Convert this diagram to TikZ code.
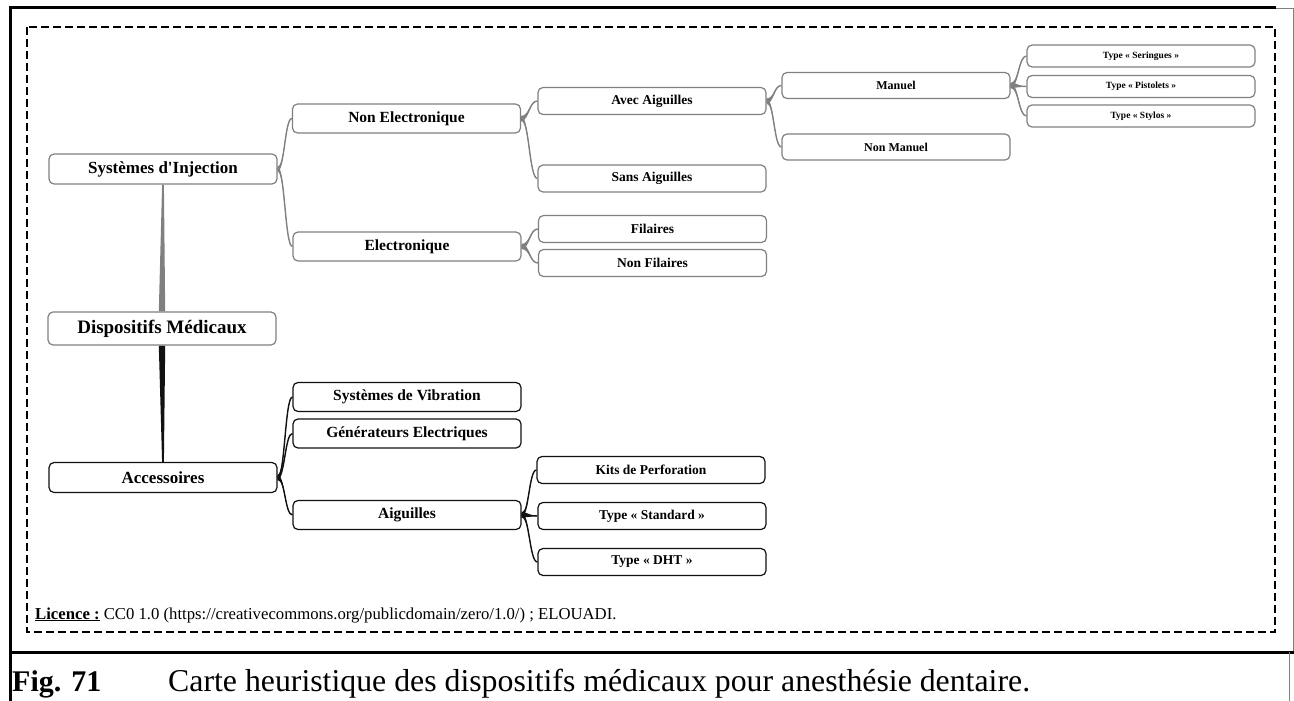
\documentclass[tikz,border=0pt]{standalone}
\usepackage{fontspec}
\setmainfont{Liberation Serif}
\newfontfamily\plainserif{Liberation Serif}
\usetikzlibrary{positioning, calc, backgrounds}

\definecolor{brgray}{HTML}{808080}
\definecolor{brdark}{HTML}{111111}

% tapered branch from the parent's right side to the child's left side
\newcommand{\branch}[3][brgray]{%
  \fill[#1] let \p1=(#2.east), \p2=(#3.west), \p3=($(#2.east)!.5!(#3.west)$) in
    (\x1,\y1+2.6pt) .. controls (\x3,\y1+2.6pt) and (\x3,\y2) .. (\p2)
    .. controls (\x3,\y2) and (\x3,\y1-2.6pt) .. (\x1,\y1-2.6pt) -- cycle;
  \draw[#1, line width=1.4pt] let \p1=(#2.east), \p2=(#3.west), \p3=($(#2.east)!.5!(#3.west)$) in
    (\p1) .. controls (\x3,\y1) and (\x3,\y2) .. (\p2);}

\begin{document}
\begin{tikzpicture}[x=1pt, y=-1pt,
  box/.style={draw=brgray, rounded corners=5pt, fill=white, line width=1.2pt,
    minimum width=228pt, inner sep=0pt},
  dark/.style={draw=brdark},
  lvl0/.style={box, minimum height=33pt, font=\fontsize{19}{22}\selectfont\bfseries},
  lvl1/.style={box, minimum height=30pt, font=\fontsize{17}{20}\selectfont\bfseries},
  lvl2/.style={box, minimum height=29pt, font=\fontsize{15.5}{18}\selectfont\bfseries},
  lvl3/.style={box, minimum height=27pt, font=\fontsize{13.5}{16}\selectfont\bfseries},
  lvl4/.style={box, minimum height=26pt, font=\fontsize{12}{14}\selectfont\bfseries},
  lvl5/.style={box, minimum height=22pt, font=\fontsize{9.5}{11}\selectfont\bfseries}]
  \useasboundingbox (0,0) rectangle (1294,701);

  % frame
  \draw[line width=3pt] (10.5,701) -- (10.5,8) -- (1276,8);
  \draw[line width=0.6pt, gray] (1276,8) -- (1294,8);
  \draw[line width=0.8pt, gray] (1293,8) -- (1293,652);
  \draw[line width=3pt] (9,652) -- (1294,652);
  \draw[line width=0.8pt, gray] (1289,652) -- (1289,701);
  \draw[line width=1.8pt, dash pattern=on 8pt off 4pt] (27,27) rectangle (1275,632);

  \node[lvl0] (DM) at (162,328.5) {Dispositifs Médicaux};
  \node[lvl1] (SI) at (163,169) {\plainserif Systèmes d'Injection};
  \node[lvl1, dark] (Acc) at (163,477.5) {Accessoires};

  \node[lvl2] (NE) at (406.5,118.5) {Non Electronique};
  \node[lvl2] (El) at (407,246.5) {Electronique};
  \node[lvl3] (AA) at (652,101) {Avec Aiguilles};
  \node[lvl3] (SA) at (652,178.5) {Sans Aiguilles};
  \node[lvl3] (Fi) at (652.5,229) {Filaires};
  \node[lvl3] (NF) at (652.5,263) {Non Filaires};
  \node[lvl4] (Ma) at (896,85.5) {Manuel};
  \node[lvl4] (NM) at (896,147) {Non Manuel};
  \node[lvl5] (TSe) at (1141,56) {Type « Seringues »};
  \node[lvl5] (TPi) at (1141,86.5) {Type « Pistolets »};
  \node[lvl5] (TSy) at (1141,116) {Type « Stylos »};

  \node[lvl2, dark] (SV) at (407,397) {Systèmes de Vibration};
  \node[lvl2, dark] (GE) at (407,433.5) {Générateurs Electriques};
  \node[lvl2, dark] (Ai) at (407,515) {Aiguilles};
  \node[lvl3, dark] (KP) at (651,470) {Kits de Perforation};
  \node[lvl3, dark] (TSt) at (652,516) {Type « Standard »};
  \node[lvl3, dark] (TD) at (652,562) {Type « DHT »};

  \begin{scope}[on background layer]
    \fill[brgray] ($(DM.north)+(-3.2,0)$) -- ($(SI.south)+(-0.9,0)$)
      -- ($(SI.south)+(0.9,0)$) -- ($(DM.north)+(3.2,0)$) -- cycle;
    \fill[brdark] ($(DM.south)+(-3.2,0)$) -- ($(Acc.north)+(-0.9,0)$)
      -- ($(Acc.north)+(0.9,0)$) -- ($(DM.south)+(3.2,0)$) -- cycle;
    \branch{SI}{NE} \branch{SI}{El}
    \branch{NE}{AA} \branch{NE}{SA}
    \branch{El}{Fi} \branch{El}{NF}
    \branch{AA}{Ma} \branch{AA}{NM}
    \branch{Ma}{TSe} \branch{Ma}{TPi} \branch{Ma}{TSy}
    \branch[brdark]{Acc}{SV} \branch[brdark]{Acc}{GE} \branch[brdark]{Acc}{Ai}
    \branch[brdark]{Ai}{KP} \branch[brdark]{Ai}{TSt} \branch[brdark]{Ai}{TD}
  \end{scope}

  \node[anchor=base west, inner sep=0pt, font=\fontsize{16.7}{19}\selectfont] (lic) at (35,619)
    {\underline{\textbf{Licence :}} CC0 1.0 (https://creativecommons.org/publicdomain/zero/1.0/) ; ELOUADI.};
  \node[anchor=base west, inner sep=0pt, font=\fontsize{30}{34}\selectfont\bfseries] (fig) at (12,691) {Fig. 71};
  \node[anchor=base west, inner sep=0pt, font=\fontsize{31.8}{34}\selectfont] (cap) at (168,691)
    {Carte heuristique des dispositifs médicaux pour anesthésie dentaire.};
\end{tikzpicture}
\end{document}
